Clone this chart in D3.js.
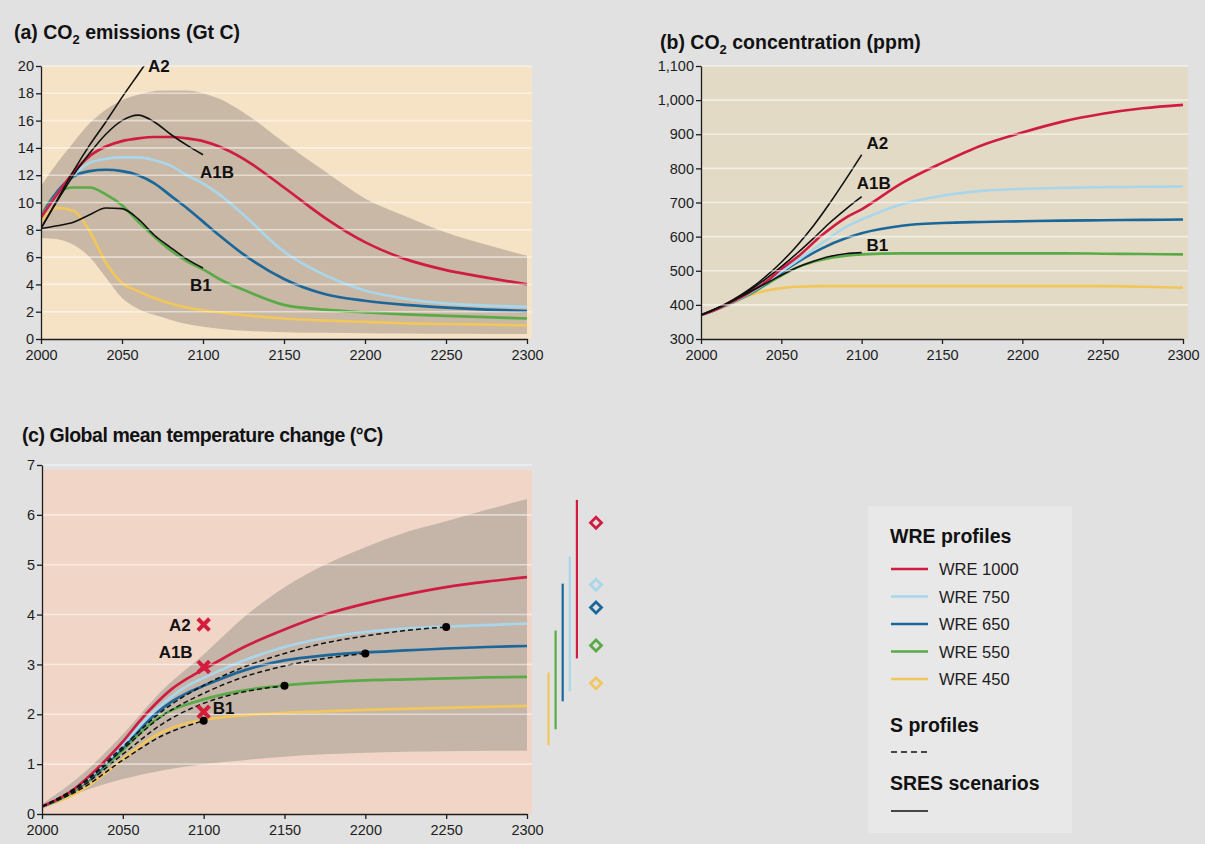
<!DOCTYPE html>
<html>
<head>
<meta charset="utf-8">
<script src="https://cdn.jsdelivr.net/npm/d3@7"></script>
<style>
  html, body { margin: 0; padding: 0; background: #e1e1e1; }
  svg { display: block; font-family: "Liberation Sans", Arial, Helvetica, sans-serif; }
</style>
</head>
<body>
<svg id="chart" width="1205" height="844"></svg>
<script>
// ---------- (a) CO2 emissions, Gt C ----------
const yearsA = [2000,2010,2020,2030,2040,2050,2060,2070,2080,2090,2100,2110,2125,2150,2175,2200,2225,2250,2275,2300];
const emisWRE1000 = [8.9,10.6,12.2,13.4,14.1,14.5,14.7,14.8,14.8,14.7,14.5,14.1,13.2,11.1,8.9,7.1,5.85,5.05,4.5,4.0];
const emisWRE750  = [8.9,10.6,12.0,12.9,13.2,13.3,13.3,13.1,12.7,12.0,11.4,10.6,9.1,6.4,4.7,3.55,2.95,2.6,2.45,2.35];
const emisWRE650  = [8.9,10.8,11.9,12.3,12.4,12.3,12.0,11.4,10.5,9.6,8.6,7.6,6.2,4.4,3.3,2.8,2.5,2.3,2.15,2.05];
const emisWRE550  = [9.0,10.7,11.1,11.1,10.6,9.8,8.6,7.5,6.5,5.7,5.1,4.4,3.6,2.5,2.15,1.95,1.8,1.7,1.6,1.5];
const emisWRE450  = [8.6,9.6,9.4,7.9,5.6,4.1,3.5,3.0,2.6,2.3,2.1,1.95,1.75,1.5,1.35,1.25,1.15,1.1,1.05,1.0];

const bandYearsA = [2000,2010,2020,2030,2040,2050,2060,2075,2090,2100,2110,2125,2150,2175,2200,2225,2250,2275,2300];
const emisBandHigh = [11.2,12.9,14.4,15.8,16.8,17.5,17.9,18.2,18.2,18.0,17.6,16.6,14.4,12.3,10.3,9.0,7.8,6.9,6.1];
const emisBandLow  = [7.4,7.3,6.9,6.0,4.5,3.0,2.2,1.6,1.1,0.9,0.75,0.6,0.5,0.45,0.42,0.4,0.38,0.37,0.36];

const yearsA2emis = [2000,2010,2020,2030,2040,2050,2060,2070];
const emisA2  = [8.1,10.2,12.3,14.2,15.9,17.7,19.4,21.1];
const yearsSres = [2000,2010,2020,2030,2040,2050,2060,2070,2080,2090,2100];
const emisA1B = [8.1,10.1,12.0,13.6,15.0,16.0,16.4,15.9,15.0,14.2,13.5];
const emisB1  = [8.1,8.3,8.55,9.1,9.6,9.55,8.8,7.6,6.7,5.85,5.2];
const ticksA = [0,2,4,6,8,10,12,14,16,18,20];

// ---------- (b) CO2 concentration, ppm ----------
const yearsB = [2000,2010,2020,2030,2040,2050,2060,2075,2090,2100,2125,2150,2175,2200,2225,2250,2275,2300];
const concWRE1000 = [370,388,410,436,466,505,540,603,655,680,757,816,868,905,937,960,976,986];
const concWRE750  = [370,388,409,434,463,498,530,580,628,650,695,720,734,740,743,745,746,747];
const concWRE650  = [370,388,409,433,461,494,525,565,595,610,632,640,643,645,647,648,649,650];
const concWRE550  = [370,387,407,430,458,486,510,532,544,548,551,551,551,551,551,550,549,548];
const concWRE450  = [370,388,410,428,441,449,453,455,455,455,455,455,455,455,455,455,453,450];
const concA2  = [370,390,415,445,482,525,575,632,697,767,840];
const concA1B = [370,390,414,442,475,512,552,595,640,680,717];
const concB1  = [370,390,412,437,462,487,510,528,542,550,553];
const ticksB = [300,400,500,600,700,800,900,1000,1100];

// ---------- (c) Global mean temperature change, °C ----------
const yearsC = [2000,2010,2020,2030,2040,2050,2060,2070,2080,2090,2100,2125,2150,2175,2200,2225,2250,2275,2300];
const tempWRE1000 = [0.15,0.3,0.5,0.78,1.1,1.45,1.85,2.2,2.5,2.72,2.9,3.35,3.7,4.0,4.22,4.4,4.55,4.66,4.75];
const tempWRE750  = [0.15,0.3,0.49,0.75,1.05,1.38,1.75,2.08,2.35,2.57,2.73,3.08,3.35,3.53,3.65,3.72,3.76,3.79,3.82];
const tempWRE650  = [0.15,0.29,0.48,0.73,1.02,1.34,1.68,2.0,2.25,2.43,2.57,2.88,3.08,3.18,3.24,3.28,3.32,3.35,3.37];
const tempWRE550  = [0.15,0.28,0.46,0.7,0.98,1.28,1.6,1.88,2.08,2.2,2.3,2.48,2.58,2.64,2.68,2.7,2.72,2.74,2.75];
const tempWRE450  = [0.15,0.25,0.4,0.6,0.84,1.1,1.35,1.57,1.72,1.82,1.89,1.98,2.03,2.06,2.09,2.11,2.13,2.15,2.17];

const yearsS = [2000,2025,2050,2075,2100,2125,2150,2175,2200,2225,2250];
const tempS750 = [0.15,0.62,1.35,2.08,2.58,2.95,3.22,3.43,3.57,3.68,3.75];
const tempS650 = [0.15,0.6,1.3,1.98,2.42,2.75,2.97,3.12,3.22];
const tempS550 = [0.15,0.56,1.2,1.82,2.22,2.45,2.57];
const tempS450 = [0.15,0.52,1.08,1.58,1.87];

const bandYearsC = [2000,2025,2050,2075,2100,2125,2150,2175,2200,2225,2250,2275,2300];
const tempBandHigh = [0.2,0.8,1.6,2.5,3.2,3.95,4.55,5.0,5.35,5.65,5.87,6.1,6.32];
const tempBandLow  = [0.1,0.45,0.7,0.88,1.0,1.08,1.15,1.2,1.23,1.25,1.26,1.27,1.27];

const sresNames = ["A2","A1B","B1"];
const sresTemp2100 = [3.8,2.95,2.05];

// equilibrium warming: likely range and best estimate, order 450, 550, 650, 750, 1000
const eqProfiles = ["WRE 450","WRE 550","WRE 650","WRE 750","WRE 1000"];
const eqLow  = [1.38,1.7,2.26,2.46,3.12];
const eqHigh = [2.84,3.68,4.62,5.16,6.3];
const eqBest = [2.62,3.38,4.14,4.6,5.84];
const ticksC = [0,1,2,3,4,5,6,7];

const xTicks = [2000,2050,2100,2150,2200,2250,2300];
const legendNames = ["WRE 1000","WRE 750","WRE 650","WRE 550","WRE 450"];
const COLORS = {"WRE 1000":"#cf1d41","WRE 750":"#a9d6ea","WRE 650":"#1b679a","WRE 550":"#5aab47","WRE 450":"#f1c65c"};

// ---------- drawing ----------
const svg = d3.select("#chart");
const ink = "#1d1d1d";

function zip(xs, ys) { return ys.map((v, i) => [xs[i], v]); }

function makePanel(o) {
  const g = svg.append("g");
  const x = d3.scaleLinear().domain([2000, 2300]).range(o.xr);
  const y = d3.scaleLinear().domain(o.yd).range(o.yr);
  const clipId = "clip" + o.id;
  svg.append("clipPath").attr("id", clipId).append("rect")
    .attr("x", o.xr[0]).attr("y", o.yr[1]).attr("width", o.xr[1] - o.xr[0] + 6).attr("height", o.yr[0] - o.yr[1]);
  g.append("rect").attr("x", o.xr[0]).attr("y", o.bgTop)
    .attr("width", o.xr[1] - o.xr[0] + 5).attr("height", o.yr[0] - o.bgTop).attr("fill", o.bg);
  const plot = g.append("g").attr("clip-path", `url(#${clipId})`);
  const line = d3.line().x(d => x(d[0])).y(d => y(d[1])).curve(d3.curveMonotoneX);
  return { g, plot, x, y, line };
}

function gridAndAxes(p, o) {
  p.g.append("g").selectAll("line").data(o.ticks.filter(t => t !== o.yd[0]))
    .join("line")
    .attr("x1", o.xr[0] + 1).attr("x2", o.xr[1] + 5)
    .attr("y1", d => p.y(d)).attr("y2", d => p.y(d))
    .attr("stroke", "#ffffff").attr("stroke-opacity", o.gridOpacity).attr("stroke-width", 1.6);

  const ax = p.g.append("g").attr("transform", `translate(${o.xr[0]},0)`)
    .call(d3.axisLeft(p.y).tickValues(o.ticks).tickSize(5).tickSizeOuter(0).tickPadding(2).tickFormat(o.fmt));
  const bx = p.g.append("g").attr("transform", `translate(0,${o.yr[0]})`)
    .call(d3.axisBottom(p.x).tickValues(xTicks).tickSize(5).tickSizeOuter(0).tickPadding(6).tickFormat(d3.format("d")));
  [ax, bx].forEach(a => {
    a.select(".domain").attr("stroke", ink).attr("stroke-width", 1.3);
    a.selectAll(".tick line").attr("stroke", ink).attr("stroke-width", 1.3);
    a.selectAll(".tick text").attr("fill", ink).attr("font-size", 14.5).attr("font-family", "Liberation Sans, Arial, sans-serif");
  });
}

function title(xp, yp, parts, spacing) {
  const t = svg.append("text").attr("x", xp).attr("y", yp)
    .attr("font-size", 19.5).attr("font-weight", "bold").attr("fill", "#111")
    .attr("letter-spacing", spacing || 0);
  parts.forEach(p => {
    const s = t.append("tspan").text(p.t);
    if (p.sub) s.attr("font-size", 13).attr("dy", 5);
    if (p.back) s.attr("dy", -5);
  });
}

function label(xp, yp, txt, anchor) {
  svg.append("text").attr("x", xp).attr("y", yp).attr("text-anchor", anchor || "start")
    .attr("font-size", 17).attr("font-weight", "bold").attr("fill", "#111").text(txt);
}

const drawOrder = ["WRE 450","WRE 550","WRE 650","WRE 750","WRE 1000"];

// ----- panel (a)
{
  const o = { id: "a", xr: [41, 527], yr: [339, 66], yd: [0, 20], bgTop: 66, bg: "#f6e3c6",
              ticks: ticksA, fmt: d3.format("d"), gridOpacity: 0.5 };
  const p = makePanel(o);
  const area = d3.area().x(d => p.x(d[0])).y0(d => p.y(d[2])).y1(d => p.y(d[1])).curve(d3.curveMonotoneX);
  p.plot.append("path").datum(bandYearsA.map((yr, i) => [yr, emisBandHigh[i], emisBandLow[i]]))
    .attr("d", area).attr("fill", "#c8b8a5");
  gridAndAxes(p, o);
  const series = {"WRE 1000": emisWRE1000, "WRE 750": emisWRE750, "WRE 650": emisWRE650, "WRE 550": emisWRE550, "WRE 450": emisWRE450};
  drawOrder.forEach(k => {
    p.plot.append("path").datum(zip(yearsA, series[k])).attr("d", p.line)
      .attr("fill", "none").attr("stroke", COLORS[k]).attr("stroke-width", 2.7);
  });
  [[yearsA2emis, emisA2], [yearsSres, emisA1B], [yearsSres, emisB1]].forEach(([xs, vs]) => {
    p.plot.append("path").datum(zip(xs, vs)).attr("d", p.line)
      .attr("fill", "none").attr("stroke", "#111").attr("stroke-width", 1.6);
  });
  label(p.x(2066), p.y(20) + 6, "A2");
  label(p.x(2100) - 3, p.y(13.5) + 23, "A1B");
  label(p.x(2092), p.y(5.2) + 23, "B1");
  title(14, 39, [{t: "(a) CO"}, {t: "2", sub: true}, {t: " emissions (Gt C)", back: true}]);
}

// ----- panel (b)
{
  const o = { id: "b", xr: [701, 1183], yr: [339, 66], yd: [300, 1100], bgTop: 66, bg: "#e3dac6",
              ticks: ticksB, fmt: d3.format(","), gridOpacity: 0.55 };
  const p = makePanel(o);
  gridAndAxes(p, o);
  const series = {"WRE 1000": concWRE1000, "WRE 750": concWRE750, "WRE 650": concWRE650, "WRE 550": concWRE550, "WRE 450": concWRE450};
  drawOrder.forEach(k => {
    p.plot.append("path").datum(zip(yearsB, series[k])).attr("d", p.line)
      .attr("fill", "none").attr("stroke", COLORS[k]).attr("stroke-width", 2.6);
  });
  [concA2, concA1B, concB1].forEach(vs => {
    p.plot.append("path").datum(zip(yearsSres, vs)).attr("d", p.line)
      .attr("fill", "none").attr("stroke", "#111").attr("stroke-width", 1.6);
  });
  label(p.x(2103), p.y(840) - 6, "A2");
  label(p.x(2097), p.y(717) - 8, "A1B");
  label(p.x(2103), p.y(553) - 2, "B1");
  title(660, 49, [{t: "(b) CO"}, {t: "2", sub: true}, {t: " concentration (ppm)", back: true}]);
}

// ----- panel (c)
{
  const o = { id: "c", xr: [42, 527], yr: [814, 465], yd: [0, 7], bgTop: 470, bg: "#f1d6c8",
              ticks: ticksC, fmt: d3.format("d"), gridOpacity: 0.5 };
  const p = makePanel(o);
  const area = d3.area().x(d => p.x(d[0])).y0(d => p.y(d[2])).y1(d => p.y(d[1])).curve(d3.curveMonotoneX);
  p.plot.append("path").datum(bandYearsC.map((yr, i) => [yr, tempBandHigh[i], tempBandLow[i]]))
    .attr("d", area).attr("fill", "#c5b5a8");
  gridAndAxes(p, o);
  const series = {"WRE 1000": tempWRE1000, "WRE 750": tempWRE750, "WRE 650": tempWRE650, "WRE 550": tempWRE550, "WRE 450": tempWRE450};
  drawOrder.forEach(k => {
    p.plot.append("path").datum(zip(yearsC, series[k])).attr("d", p.line)
      .attr("fill", "none").attr("stroke", COLORS[k]).attr("stroke-width", 2.7);
  });
  const sProfiles = [tempS750, tempS650, tempS550, tempS450];
  sProfiles.forEach(vs => {
    p.plot.append("path").datum(zip(yearsS.slice(0, vs.length), vs)).attr("d", p.line)
      .attr("fill", "none").attr("stroke", "#111").attr("stroke-width", 1.5).attr("stroke-dasharray", "5,3");
  });
  p.g.append("g").selectAll("circle").data(sProfiles)
    .join("circle")
    .attr("cx", vs => p.x(yearsS[vs.length - 1])).attr("cy", vs => p.y(vs[vs.length - 1]))
    .attr("r", 4).attr("fill", "#000");

  // SRES 2100 warming
  const crosses = p.g.append("g");
  sresTemp2100.forEach((v, i) => {
    const cx = p.x(2100), cy = p.y(v), r = 5.8;
    crosses.append("path").attr("d", `M${cx - r},${cy - r}L${cx + r},${cy + r}M${cx - r},${cy + r}L${cx + r},${cy - r}`)
      .attr("stroke", "#d41c3c").attr("stroke-width", 4).attr("stroke-linecap", "butt");
  });
  label(p.x(2100) - 13, p.y(sresTemp2100[0]) + 6, sresNames[0], "end");
  label(p.x(2100) - 11, p.y(sresTemp2100[1]) - 9, sresNames[1], "end");
  label(p.x(2100) + 9, p.y(sresTemp2100[2]) + 2, sresNames[2]);

  // equilibrium ranges beside the plot
  const side = svg.append("g");
  eqProfiles.forEach((k, i) => {
    const bx = o.xr[1] + 21.5 + i * 7.1;
    side.append("line").attr("x1", bx).attr("x2", bx)
      .attr("y1", p.y(eqLow[i])).attr("y2", p.y(eqHigh[i]))
      .attr("stroke", COLORS[k]).attr("stroke-width", 2.2);
    const dx = o.xr[1] + 69, dy = p.y(eqBest[i]), s = 5.5;
    side.append("path").attr("d", `M${dx},${dy - s}L${dx + s},${dy}L${dx},${dy + s}L${dx - s},${dy}Z`)
      .attr("fill", "none").attr("stroke", COLORS[k]).attr("stroke-width", 2.8);
  });
  title(22, 442, [{t: "(c) Global mean temperature change (°C)"}], -0.45);
}

// ----- legend
{
  const lg = svg.append("g");
  lg.append("rect").attr("x", 868).attr("y", 506).attr("width", 204).attr("height", 327).attr("fill", "#e8e8e8");
  lg.append("text").attr("x", 890).attr("y", 543).attr("font-size", 19.5).attr("font-weight", "bold").attr("fill", "#111").text("WRE profiles");
  legendNames.forEach((k, i) => {
    const yy = 569 + i * 27.5;
    lg.append("line").attr("x1", 891).attr("x2", 928).attr("y1", yy).attr("y2", yy)
      .attr("stroke", COLORS[k]).attr("stroke-width", 2.4);
    lg.append("text").attr("x", 939).attr("y", yy + 6).attr("font-size", 16.5).attr("fill", "#1d1d1d").text(k);
  });
  lg.append("text").attr("x", 890).attr("y", 732).attr("font-size", 19.5).attr("font-weight", "bold").attr("fill", "#111").text("S profiles");
  lg.append("line").attr("x1", 891).attr("x2", 928).attr("y1", 752).attr("y2", 752)
    .attr("stroke", "#111").attr("stroke-width", 1.4).attr("stroke-dasharray", "6,4");
  lg.append("text").attr("x", 890).attr("y", 790).attr("font-size", 19.5).attr("font-weight", "bold").attr("fill", "#111").text("SRES scenarios");
  lg.append("line").attr("x1", 891).attr("x2", 928).attr("y1", 811).attr("y2", 811)
    .attr("stroke", "#111").attr("stroke-width", 1.6);
}
</script>
</body>
</html>
